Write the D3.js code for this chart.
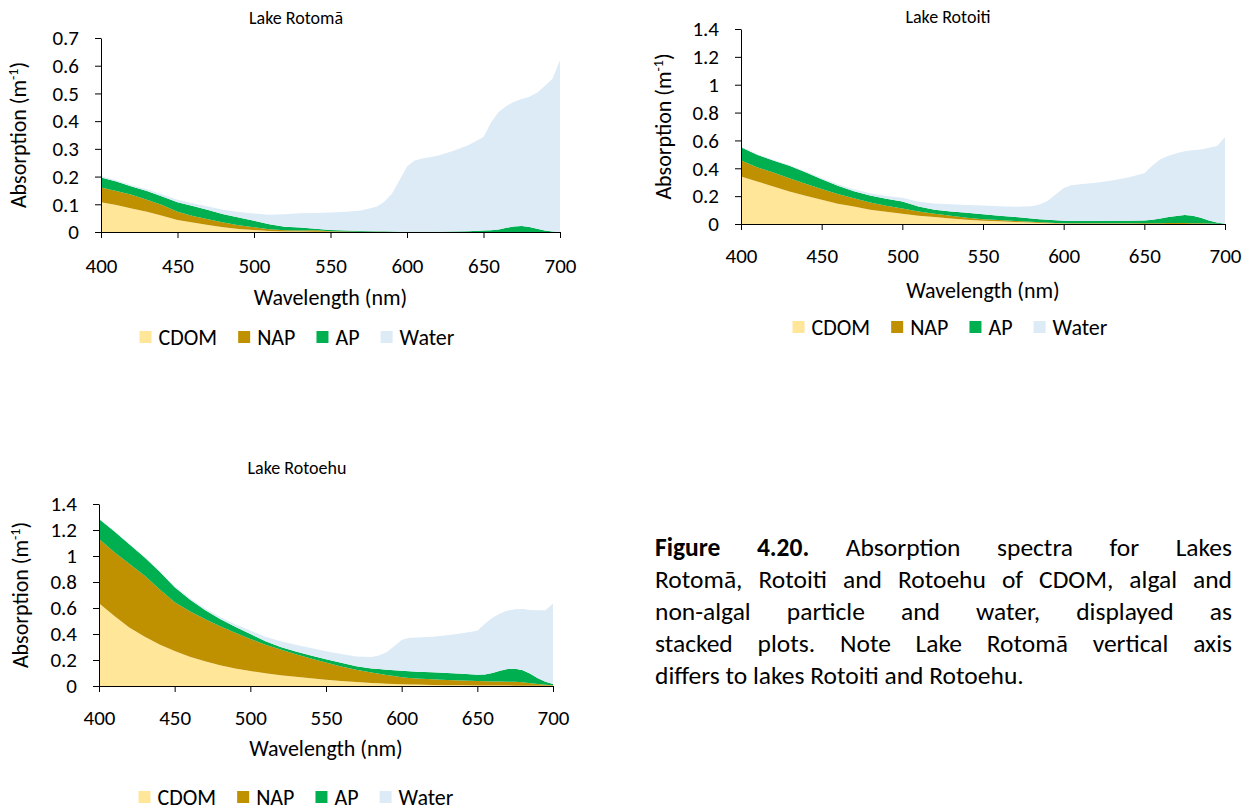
<!DOCTYPE html>
<html><head><meta charset="utf-8">
<script src="https://cdn.jsdelivr.net/npm/d3@7"></script>
<style>
html,body{margin:0;padding:0;background:#fff;}
svg{display:block;}
</style></head><body>
<svg id="chart" width="1254" height="811"></svg>
<script>
// ---------------- DATA ----------------
const wavelengths = [400,410,420,430,440,450,460,470,480,490,500,510,520,530,540,550,560,570,580,585,590,595,600,605,610,620,630,640,650,655,660,665,670,675,680,685,690,695,700];

const water = [.005,.005,.005,.006,.007,.009,.010,.013,.016,.020,.026,.034,.045,.052,.057,.063,.068,.074,
  .088,.105,.135,.185,.235,.257,.264, .274,.290,.310, .338,.390,.425,.440,.450,.458,.470,.490,.522,.550,.620];

const rotomaCDOM = [.107,.097,.085,.073,.059,.043,.034,.025,.017,.011,.007,.004,.002,.002,.001,.001,0,0,
  0,0,0,0,0,0,0, 0,0,0, 0,0,0,0,0,0,0,0,0,0,0];
const rotomaNAP = [.054,.051,.049,.043,.038,.030,.024,.021,.017,.013,.010,.006,.004,.003,.005,.002,.002,.001,
  .001,.001,0,0,0,0,0, 0,0,0, 0,0,0,0,0,0,0,0,0,0,0];
const rotomaAP = [.036,.034,.030,.032,.031,.034,.036,.033,.030,.028,.024,.018,.013,.011,.006,.004,.003,.003,
  .002,.002,.002,.001,.001,.001,.001, .001,.002,.003, .005,.006,.009,.015,.020,.022,.018,.012,.005,.002,0];

const rotoitiCDOM = [.341,.306,.270,.234,.203,.174,.146,.126,.102,.088,.074,.060,.050,.040,.031,.024,.019,.014,
  .010,.008,.006,.004,.003,.002,.002, .002,.001,.001, 0,0,0,0,0,0,0,0,0,0,0];
const rotoitiNAP = [.115,.102,.100,.095,.086,.077,.069,.058,.053,.043,.038,.030,.024,.020,.014,.011,.009,.008,
  .006,.005,.004,.004,.003,.003,.003, .003,.004,.004, .005,.005,.006,.007,.008,.008,.006,.005,.003,.001,0];
const rotoitiAP = [.095,.089,.086,.089,.082,.070,.060,.052,.050,.050,.050,.036,.029,.030,.035,.035,.032,.028,
  .024,.022,.020,.019,.018,.017,.017, .017,.018,.019, .021,.025,.034,.043,.050,.056,.054,.040,.022,.009,.002];

const rotoehuCDOM = [.636,.540,.450,.380,.320,.270,.225,.190,.160,.135,.115,.098,.083,.071,.060,.048,.039,.030,
  .024,.021,.018,.016,.014,.012,.011, .008,.006,.005, .004,.004,.003,.003,.003,.002,.002,.002,.002,.001,.001];
const rotoehuNAP = [.494,.490,.490,.470,.425,.375,.350,.325,.300,.275,.247,.220,.197,.174,.152,.132,.111,.095,
  .080,.073,.067,.060,.054,.050,.047, .043,.040,.037, .034,.032,.032,.031,.030,.030,.026,.020,.014,.009,.004];
const rotoehuAP = [.155,.160,.150,.140,.135,.115,.090,.070,.055,.045,.038,.027,.020,.020,.023,.025,.028,.027,
  .031,.036,.040,.045,.050,.052,.052, .054,.054,.053, .049,.052,.065,.084,.097,.101,.094,.073,.044,.022,.010];

const seriesNames = ["CDOM","NAP","AP","Water"];
const xTicks = [400,450,500,550,600,650,700];
const xTickLabels = ["400","450","500","550","600","650","700"];
const yTicksRotoma = [0,0.1,0.2,0.3,0.4,0.5,0.6,0.7];
const yTickLabelsRotoma = ["0","0.1","0.2","0.3","0.4","0.5","0.6","0.7"];
const yTicksOther = [0,0.2,0.4,0.6,0.8,1,1.2,1.4];
const yTickLabelsOther = ["0","0.2","0.4","0.6","0.8","1","1.2","1.4"];
const lakeTitles = ["Lake Rotomā","Lake Rotoiti","Lake Rotoehu"];
const xAxisTitle = "Wavelength (nm)";
const yAxisTitle = "Absorption (m";
const yAxisSup = "-1";
const captionLines = [
  "Figure 4.20. Absorption spectra for Lakes",
  "Rotomā, Rotoiti and Rotoehu of CDOM, algal and",
  "non-algal particle and water, displayed as",
  "stacked plots. Note Lake Rotomā vertical axis",
  "differs to lakes Rotoiti and Rotoehu."
];

// ---------------- STYLE ----------------
const seriesColors = ["#FFE699","#BF9000","#00B050","#DDEBF7"];
const FONT = "Carlito, Lato, 'Open Sans', sans-serif";
const TXT = "#000";
const TICK_FS = 21, AXT_FS = 22, LEG_FS = 22, TITLE_FS = 18;

const panels = [
  {title: lakeTitles[0], cdom: rotomaCDOM, nap: rotomaNAP, ap: rotomaAP, yMax: 0.7, yTicks: yTicksRotoma, yLabels: yTickLabelsRotoma,
   left: 101, right: 560, top: 38, bottom: 232, titleX: 296, titleY: 18, xTitleY: 297, yTitleX: 18, legendY: 337, legendCX: 297, xPad: 20},
  {title: lakeTitles[1], cdom: rotoitiCDOM, nap: rotoitiNAP, ap: rotoitiAP, yMax: 1.4, yTicks: yTicksOther, yLabels: yTickLabelsOther,
   left: 741, right: 1225, top: 29, bottom: 224, titleX: 948, titleY: 17, xTitleY: 290, yTitleX: 663, legendY: 327, legendCX: 950, xPad: 18},
  {title: lakeTitles[2], cdom: rotoehuCDOM, nap: rotoehuNAP, ap: rotoehuAP, yMax: 1.4, yTicks: yTicksOther, yLabels: yTickLabelsOther,
   left: 99, right: 553, top: 504, bottom: 686, titleX: 297, titleY: 468, xTitleY: 748, yTitleX: 20, legendY: 797, legendCX: 296, xPad: 18}
];

const svg = d3.select("#chart");

panels.forEach(p => {
  const x = d3.scaleLinear().domain([400,700]).range([p.left, p.right]);
  const y = d3.scaleLinear().domain([0, p.yMax]).range([p.bottom, p.top]);
  const rows = wavelengths.map((w,i) => ({wl: w, CDOM: p.cdom[i], NAP: p.nap[i], AP: p.ap[i], Water: water[i]}));
  const stacked = d3.stack().keys(seriesNames)(rows);
  const area = d3.area().x(d => x(d.data.wl)).y0(d => y(d[0])).y1(d => y(d[1]));
  const g = svg.append("g");

  g.append("g").selectAll("path").data(stacked).join("path")
    .attr("fill", (d,i) => seriesColors[i])
    .attr("d", area);

  // y axis
  const ya = g.append("g").attr("transform", `translate(${p.left},0)`)
    .call(d3.axisLeft(y).tickValues(p.yTicks).tickFormat((d,i) => p.yLabels[i]).tickSize(6).tickSizeOuter(0).tickPadding(16));
  ya.attr("font-family", FONT).attr("font-size", TICK_FS);
  ya.selectAll("path,line").attr("stroke", "#000");
  ya.selectAll("text").attr("fill", TXT);

  // x axis
  const xa = g.append("g").attr("transform", `translate(0,${p.bottom})`)
    .call(d3.axisBottom(x).tickValues(xTicks).tickFormat((d,i) => xTickLabels[i]).tickSize(6).tickSizeOuter(0).tickPadding(p.xPad));
  xa.attr("font-family", FONT).attr("font-size", TICK_FS);
  xa.selectAll("path,line").attr("stroke", "#000");
  xa.selectAll("text").attr("fill", TXT);

  // title
  g.append("text").attr("x", p.titleX).attr("y", p.titleY).attr("dy", "0.35em")
    .attr("text-anchor", "middle").attr("font-family", FONT).attr("font-size", TITLE_FS).attr("fill", TXT)
    .text(p.title);

  // x axis title
  g.append("text").attr("x", (p.left + p.right) / 2).attr("y", p.xTitleY).attr("dy", "0.35em")
    .attr("text-anchor", "middle").attr("font-family", FONT).attr("font-size", AXT_FS).attr("fill", TXT)
    .text(xAxisTitle);

  // y axis title
  const yt = g.append("text")
    .attr("transform", `translate(${p.yTitleX},${(p.top + p.bottom) / 2}) rotate(-90)`)
    .attr("dy", "0.35em").attr("text-anchor", "middle")
    .attr("font-family", FONT).attr("font-size", AXT_FS).attr("fill", TXT);
  yt.append("tspan").text(yAxisTitle);
  yt.append("tspan").attr("font-size", 14).attr("dy", -8).text(yAxisSup);
  yt.append("tspan").attr("dy", 8).text(")");

  // legend
  const lg = g.append("g").attr("font-family", FONT).attr("font-size", LEG_FS).attr("fill", TXT);
  const sw = 12, gapSw = 7, gapItem = 21;
  const items = seriesNames.map((name, i) => {
    const it = lg.append("g");
    it.append("rect").attr("width", sw).attr("height", sw).attr("fill", seriesColors[i]);
    const t = it.append("text").attr("x", sw + gapSw).attr("y", sw / 2).attr("dy", "0.35em").text(name);
    return {it, w: sw + gapSw + t.node().getComputedTextLength()};
  });
  const total = d3.sum(items, d => d.w) + gapItem * (items.length - 1);
  let cx = p.legendCX - total / 2;
  items.forEach(d => {
    d.it.attr("transform", `translate(${cx},${p.legendY - sw / 2})`);
    cx += d.w + gapItem;
  });
});

// ---------------- CAPTION ----------------
const capLeft = 655, capRight = 1232, capW = capRight - capLeft, capY0 = 556, capLH = 32;
let capFs = 25.5;
const capG = svg.append("g").attr("font-family", FONT).attr("fill", TXT);
const measure = (s, bold, fs) => {
  const t = capG.append("text").attr("font-size", fs).attr("font-weight", bold ? "bold" : "normal").text(s);
  const w = t.node().getComputedTextLength();
  t.remove();
  return w;
};
const spaceW = measure("x x", false, capFs) - measure("xx", false, capFs);
const lineWords = captionLines.map((line, li) => line.split(" ").map((w, wi) => {
  const bold = li === 0 && wi < 2;
  return {w, bold, width: measure(w, bold, capFs)};
}));
const natural = lineWords.map(ws => d3.sum(ws, d => d.width) + spaceW * (ws.length - 1));
const maxNat = d3.max(natural.slice(0, -1));
const k = Math.min(capW * 0.995 / maxNat, 1);
capFs *= k;
lineWords.forEach((ws, li) => {
  const sumW = d3.sum(ws, d => d.width * k);
  const last = li === lineWords.length - 1;
  const gap = last ? spaceW * k : (capW - sumW) / (ws.length - 1);
  let xx = capLeft;
  ws.forEach(d => {
    capG.append("text").attr("x", xx).attr("y", capY0 + capLH * li)
      .attr("font-size", capFs).attr("font-weight", d.bold ? "bold" : "normal").text(d.w);
    xx += d.width * k + gap;
  });
});
</script>
</body></html>
